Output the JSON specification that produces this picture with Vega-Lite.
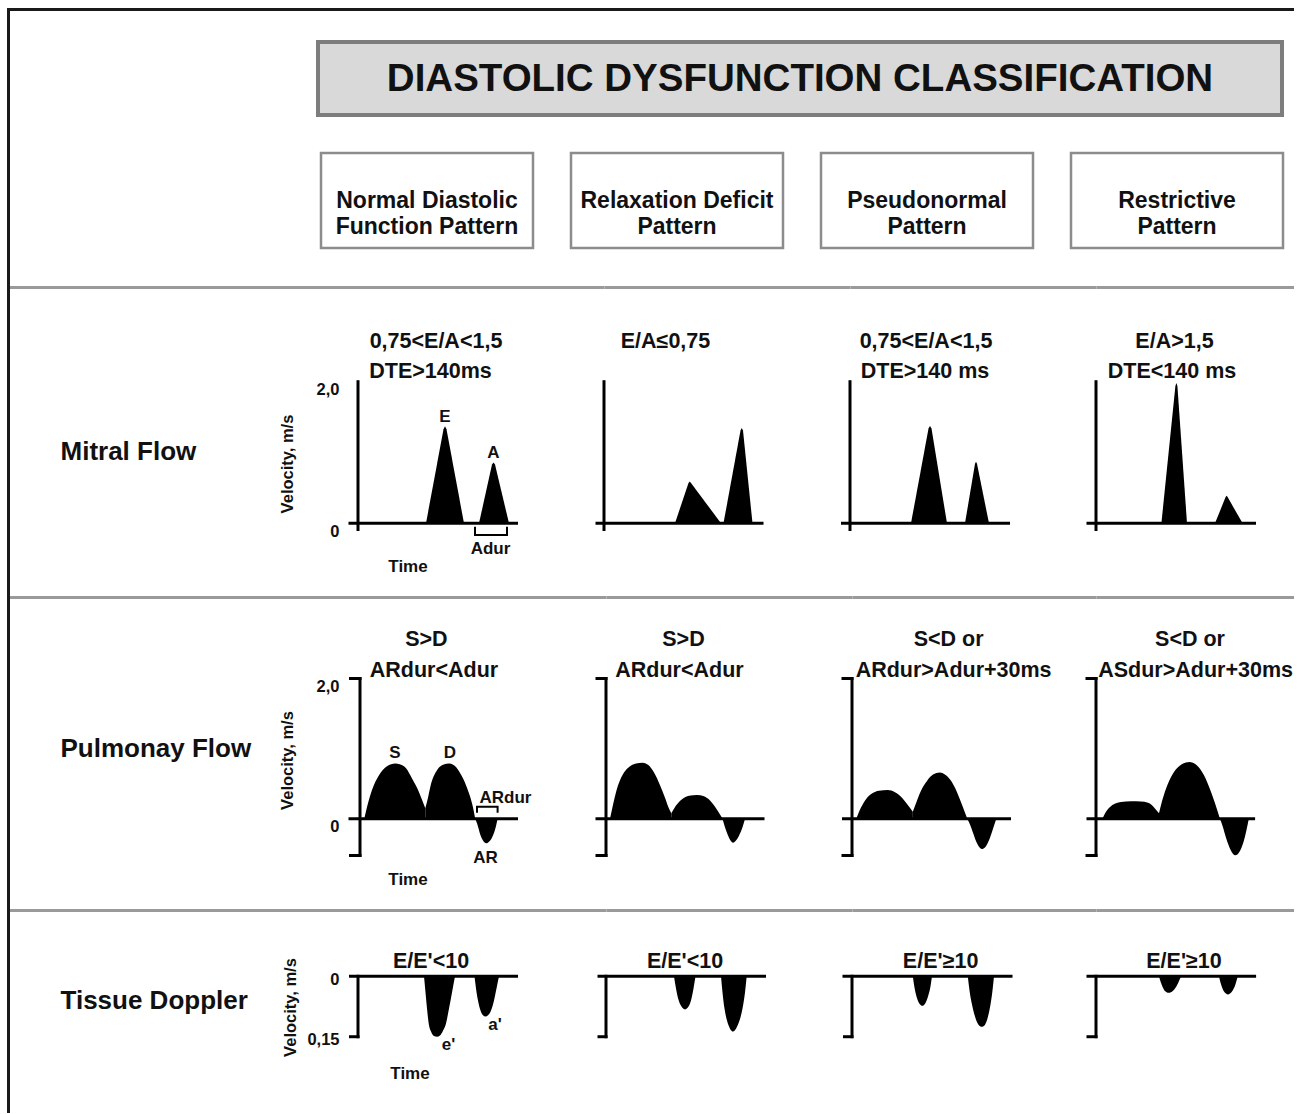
{
"$schema": "https://vega.github.io/schema/vega-lite/v6.json",
"background": "white",
"padding": {"left": 5, "top": 6, "right": 0, "bottom": 0},
"spacing": 0,
"bounds": "flush",
"config": {
  "view": {"stroke": null},
  "axis": {"grid": false, "ticks": false, "labels": false, "domain": false},
  "text": {"font": "Liberation Sans, Arial, Helvetica, sans-serif", "fontWeight": "bold", "color": "#111"}
},
"datasets": {
  "patterns": [
    {"pattern": "Normal Diastolic\nFunction Pattern"},
    {"pattern": "Relaxation Deficit\nPattern"},
    {"pattern": "Pseudonormal\nPattern"},
    {"pattern": "Restrictive\nPattern"}
  ],
  "waves": [
    {"row":"M","panel":1,"wave":"E","t":68,"v":0},{"row":"M","panel":1,"wave":"E","t":85.5,"v":1.33},{"row":"M","panel":1,"wave":"E","t":87,"v":1.37},{"row":"M","panel":1,"wave":"E","t":88.5,"v":1.33},{"row":"M","panel":1,"wave":"E","t":106,"v":0},
    {"row":"M","panel":1,"wave":"A","t":121,"v":0},{"row":"M","panel":1,"wave":"A","t":134,"v":0.83},{"row":"M","panel":1,"wave":"A","t":135.5,"v":0.86},{"row":"M","panel":1,"wave":"A","t":137,"v":0.83},{"row":"M","panel":1,"wave":"A","t":151,"v":0},
    {"row":"M","panel":2,"wave":"E","t":71,"v":0},{"row":"M","panel":2,"wave":"E","t":84.5,"v":0.57},{"row":"M","panel":2,"wave":"E","t":85.7,"v":0.59},{"row":"M","panel":2,"wave":"E","t":87,"v":0.57},{"row":"M","panel":2,"wave":"E","t":117,"v":0},
    {"row":"M","panel":2,"wave":"A","t":119.5,"v":0},{"row":"M","panel":2,"wave":"A","t":136.5,"v":1.31},{"row":"M","panel":2,"wave":"A","t":137.8,"v":1.345},{"row":"M","panel":2,"wave":"A","t":139,"v":1.31},{"row":"M","panel":2,"wave":"A","t":148.5,"v":0},
    {"row":"M","panel":3,"wave":"E","t":61,"v":0},{"row":"M","panel":3,"wave":"E","t":78.5,"v":1.34},{"row":"M","panel":3,"wave":"E","t":80,"v":1.375},{"row":"M","panel":3,"wave":"E","t":81.5,"v":1.34},{"row":"M","panel":3,"wave":"E","t":97,"v":0},
    {"row":"M","panel":3,"wave":"A","t":115,"v":0},{"row":"M","panel":3,"wave":"A","t":125,"v":0.84},{"row":"M","panel":3,"wave":"A","t":126,"v":0.87},{"row":"M","panel":3,"wave":"A","t":127,"v":0.84},{"row":"M","panel":3,"wave":"A","t":139,"v":0},
    {"row":"M","panel":4,"wave":"E","t":65.4,"v":0},{"row":"M","panel":4,"wave":"E","t":79.4,"v":1.94},{"row":"M","panel":4,"wave":"E","t":80.4,"v":1.98},{"row":"M","panel":4,"wave":"E","t":81.4,"v":1.94},{"row":"M","panel":4,"wave":"E","t":91,"v":0},
    {"row":"M","panel":4,"wave":"A","t":119,"v":0},{"row":"M","panel":4,"wave":"A","t":129.6,"v":0.37},{"row":"M","panel":4,"wave":"A","t":130.6,"v":0.39},{"row":"M","panel":4,"wave":"A","t":131.6,"v":0.37},{"row":"M","panel":4,"wave":"A","t":146.6,"v":0},

    {"row":"P","panel":1,"wave":"S","t":4.3,"v":0},{"row":"P","panel":1,"wave":"S","t":8,"v":0.22},{"row":"P","panel":1,"wave":"S","t":12,"v":0.41},{"row":"P","panel":1,"wave":"S","t":19,"v":0.62},{"row":"P","panel":1,"wave":"S","t":27,"v":0.75},{"row":"P","panel":1,"wave":"S","t":35.3,"v":0.79},{"row":"P","panel":1,"wave":"S","t":44,"v":0.75},{"row":"P","panel":1,"wave":"S","t":53,"v":0.55},{"row":"P","panel":1,"wave":"S","t":59,"v":0.38},{"row":"P","panel":1,"wave":"S","t":62,"v":0.27},{"row":"P","panel":1,"wave":"S","t":65.3,"v":0.15},
    {"row":"P","panel":1,"wave":"D","t":65.3,"v":0.15},{"row":"P","panel":1,"wave":"D","t":68,"v":0.3},{"row":"P","panel":1,"wave":"D","t":70.4,"v":0.46},{"row":"P","panel":1,"wave":"D","t":77.3,"v":0.7},{"row":"P","panel":1,"wave":"D","t":83,"v":0.77},{"row":"P","panel":1,"wave":"D","t":89.4,"v":0.79},{"row":"P","panel":1,"wave":"D","t":96,"v":0.74},{"row":"P","panel":1,"wave":"D","t":101.4,"v":0.62},{"row":"P","panel":1,"wave":"D","t":106,"v":0.48},{"row":"P","panel":1,"wave":"D","t":110,"v":0.32},{"row":"P","panel":1,"wave":"D","t":113,"v":0.16},{"row":"P","panel":1,"wave":"D","t":115.2,"v":0},
    {"row":"P","panel":1,"wave":"AR","t":115.2,"v":0},{"row":"P","panel":1,"wave":"AR","t":117,"v":-0.064},{"row":"P","panel":1,"wave":"AR","t":120.4,"v":-0.23},{"row":"P","panel":1,"wave":"AR","t":123,"v":-0.31},{"row":"P","panel":1,"wave":"AR","t":126.2,"v":-0.35},{"row":"P","panel":1,"wave":"AR","t":129.5,"v":-0.32},{"row":"P","panel":1,"wave":"AR","t":132.4,"v":-0.255},{"row":"P","panel":1,"wave":"AR","t":135.9,"v":-0.11},{"row":"P","panel":1,"wave":"AR","t":137.6,"v":0},

    {"row":"P","panel":2,"wave":"S","t":4,"v":0},{"row":"P","panel":2,"wave":"S","t":7,"v":0.2},{"row":"P","panel":2,"wave":"S","t":10,"v":0.38},{"row":"P","panel":2,"wave":"S","t":14,"v":0.55},{"row":"P","panel":2,"wave":"S","t":18,"v":0.66},{"row":"P","panel":2,"wave":"S","t":24,"v":0.75},{"row":"P","panel":2,"wave":"S","t":30,"v":0.79},{"row":"P","panel":2,"wave":"S","t":36.4,"v":0.8},{"row":"P","panel":2,"wave":"S","t":42,"v":0.77},{"row":"P","panel":2,"wave":"S","t":48,"v":0.66},{"row":"P","panel":2,"wave":"S","t":54,"v":0.48},{"row":"P","panel":2,"wave":"S","t":59,"v":0.3},{"row":"P","panel":2,"wave":"S","t":62,"v":0.18},{"row":"P","panel":2,"wave":"S","t":65.3,"v":0.08},
    {"row":"P","panel":2,"wave":"D","t":65.3,"v":0.08},{"row":"P","panel":2,"wave":"D","t":70,"v":0.19},{"row":"P","panel":2,"wave":"D","t":76,"v":0.28},{"row":"P","panel":2,"wave":"D","t":83,"v":0.33},{"row":"P","panel":2,"wave":"D","t":91,"v":0.34},{"row":"P","panel":2,"wave":"D","t":98,"v":0.32},{"row":"P","panel":2,"wave":"D","t":104,"v":0.26},{"row":"P","panel":2,"wave":"D","t":110,"v":0.15},{"row":"P","panel":2,"wave":"D","t":114,"v":0.06},{"row":"P","panel":2,"wave":"D","t":116.5,"v":0},
    {"row":"P","panel":2,"wave":"AR","t":116.5,"v":0},{"row":"P","panel":2,"wave":"AR","t":118.5,"v":-0.1},{"row":"P","panel":2,"wave":"AR","t":121.5,"v":-0.22},{"row":"P","panel":2,"wave":"AR","t":124.5,"v":-0.31},{"row":"P","panel":2,"wave":"AR","t":127,"v":-0.34},{"row":"P","panel":2,"wave":"AR","t":130,"v":-0.31},{"row":"P","panel":2,"wave":"AR","t":133,"v":-0.24},{"row":"P","panel":2,"wave":"AR","t":136.5,"v":-0.12},{"row":"P","panel":2,"wave":"AR","t":139,"v":0},

    {"row":"P","panel":3,"wave":"S","t":4.3,"v":0},{"row":"P","panel":3,"wave":"S","t":9,"v":0.16},{"row":"P","panel":3,"wave":"S","t":14,"v":0.28},{"row":"P","panel":3,"wave":"S","t":20,"v":0.36},{"row":"P","panel":3,"wave":"S","t":27,"v":0.4},{"row":"P","panel":3,"wave":"S","t":35.7,"v":0.41},{"row":"P","panel":3,"wave":"S","t":43,"v":0.38},{"row":"P","panel":3,"wave":"S","t":50,"v":0.3},{"row":"P","panel":3,"wave":"S","t":55,"v":0.21},{"row":"P","panel":3,"wave":"S","t":60.8,"v":0.1},
    {"row":"P","panel":3,"wave":"D","t":60.8,"v":0.1},{"row":"P","panel":3,"wave":"D","t":64,"v":0.22},{"row":"P","panel":3,"wave":"D","t":69,"v":0.4},{"row":"P","panel":3,"wave":"D","t":75,"v":0.54},{"row":"P","panel":3,"wave":"D","t":81,"v":0.63},{"row":"P","panel":3,"wave":"D","t":87.8,"v":0.66},{"row":"P","panel":3,"wave":"D","t":94,"v":0.62},{"row":"P","panel":3,"wave":"D","t":100,"v":0.52},{"row":"P","panel":3,"wave":"D","t":105,"v":0.38},{"row":"P","panel":3,"wave":"D","t":110,"v":0.2},{"row":"P","panel":3,"wave":"D","t":115.3,"v":0},
    {"row":"P","panel":3,"wave":"AR","t":115.3,"v":0},{"row":"P","panel":3,"wave":"AR","t":118,"v":-0.08},{"row":"P","panel":3,"wave":"AR","t":121,"v":-0.2},{"row":"P","panel":3,"wave":"AR","t":125,"v":-0.35},{"row":"P","panel":3,"wave":"AR","t":129.8,"v":-0.43},{"row":"P","panel":3,"wave":"AR","t":134,"v":-0.39},{"row":"P","panel":3,"wave":"AR","t":138,"v":-0.27},{"row":"P","panel":3,"wave":"AR","t":141.5,"v":-0.12},{"row":"P","panel":3,"wave":"AR","t":144.3,"v":0},

    {"row":"P","panel":4,"wave":"S","t":6.5,"v":0},{"row":"P","panel":4,"wave":"S","t":10,"v":0.1},{"row":"P","panel":4,"wave":"S","t":15,"v":0.18},{"row":"P","panel":4,"wave":"S","t":20,"v":0.22},{"row":"P","panel":4,"wave":"S","t":25,"v":0.24},{"row":"P","panel":4,"wave":"S","t":35,"v":0.25},{"row":"P","panel":4,"wave":"S","t":45,"v":0.245},{"row":"P","panel":4,"wave":"S","t":52,"v":0.23},{"row":"P","panel":4,"wave":"S","t":57,"v":0.18},{"row":"P","panel":4,"wave":"S","t":60,"v":0.13},{"row":"P","panel":4,"wave":"S","t":63,"v":0.08},
    {"row":"P","panel":4,"wave":"D","t":63,"v":0.08},{"row":"P","panel":4,"wave":"D","t":66,"v":0.25},{"row":"P","panel":4,"wave":"D","t":70,"v":0.43},{"row":"P","panel":4,"wave":"D","t":76,"v":0.62},{"row":"P","panel":4,"wave":"D","t":84,"v":0.76},{"row":"P","panel":4,"wave":"D","t":93.4,"v":0.81},{"row":"P","panel":4,"wave":"D","t":101,"v":0.76},{"row":"P","panel":4,"wave":"D","t":108,"v":0.62},{"row":"P","panel":4,"wave":"D","t":114,"v":0.42},{"row":"P","panel":4,"wave":"D","t":119,"v":0.22},{"row":"P","panel":4,"wave":"D","t":123.9,"v":0},
    {"row":"P","panel":4,"wave":"AR","t":123.9,"v":0},{"row":"P","panel":4,"wave":"AR","t":126.5,"v":-0.1},{"row":"P","panel":4,"wave":"AR","t":130,"v":-0.27},{"row":"P","panel":4,"wave":"AR","t":134.5,"v":-0.44},{"row":"P","panel":4,"wave":"AR","t":139.3,"v":-0.52},{"row":"P","panel":4,"wave":"AR","t":143.5,"v":-0.47},{"row":"P","panel":4,"wave":"AR","t":147.5,"v":-0.33},{"row":"P","panel":4,"wave":"AR","t":150.5,"v":-0.16},{"row":"P","panel":4,"wave":"AR","t":152.8,"v":0},

    {"row":"T","panel":1,"wave":"e","t":66,"v":0},{"row":"T","panel":1,"wave":"e","t":67.5,"v":-0.04},{"row":"T","panel":1,"wave":"e","t":69,"v":-0.08},{"row":"T","panel":1,"wave":"e","t":70.7,"v":-0.117},{"row":"T","panel":1,"wave":"e","t":73,"v":-0.137},{"row":"T","panel":1,"wave":"e","t":76,"v":-0.148},{"row":"T","panel":1,"wave":"e","t":79,"v":-0.15},{"row":"T","panel":1,"wave":"e","t":82,"v":-0.147},{"row":"T","panel":1,"wave":"e","t":85,"v":-0.135},{"row":"T","panel":1,"wave":"e","t":88,"v":-0.117},{"row":"T","panel":1,"wave":"e","t":91,"v":-0.08},{"row":"T","panel":1,"wave":"e","t":94,"v":-0.04},{"row":"T","panel":1,"wave":"e","t":97,"v":0},
    {"row":"T","panel":1,"wave":"a","t":116.5,"v":0},{"row":"T","panel":1,"wave":"a","t":118,"v":-0.03},{"row":"T","panel":1,"wave":"a","t":120,"v":-0.06},{"row":"T","panel":1,"wave":"a","t":122.5,"v":-0.085},{"row":"T","panel":1,"wave":"a","t":125,"v":-0.097},{"row":"T","panel":1,"wave":"a","t":127.5,"v":-0.1},{"row":"T","panel":1,"wave":"a","t":130,"v":-0.097},{"row":"T","panel":1,"wave":"a","t":133,"v":-0.085},{"row":"T","panel":1,"wave":"a","t":136,"v":-0.06},{"row":"T","panel":1,"wave":"a","t":138.5,"v":-0.03},{"row":"T","panel":1,"wave":"a","t":141,"v":0},
    {"row":"T","panel":2,"wave":"e","t":68,"v":0},{"row":"T","panel":2,"wave":"e","t":70,"v":-0.03},{"row":"T","panel":2,"wave":"e","t":72.5,"v":-0.058},{"row":"T","panel":2,"wave":"e","t":75.5,"v":-0.075},{"row":"T","panel":2,"wave":"e","t":79,"v":-0.082},{"row":"T","panel":2,"wave":"e","t":82.5,"v":-0.075},{"row":"T","panel":2,"wave":"e","t":85.5,"v":-0.055},{"row":"T","panel":2,"wave":"e","t":87.5,"v":-0.03},{"row":"T","panel":2,"wave":"e","t":89.5,"v":0},
    {"row":"T","panel":2,"wave":"a","t":115,"v":0},{"row":"T","panel":2,"wave":"a","t":116.5,"v":-0.04},{"row":"T","panel":2,"wave":"a","t":118.5,"v":-0.08},{"row":"T","panel":2,"wave":"a","t":121,"v":-0.11},{"row":"T","panel":2,"wave":"a","t":124,"v":-0.13},{"row":"T","panel":2,"wave":"a","t":127,"v":-0.137},{"row":"T","panel":2,"wave":"a","t":130,"v":-0.13},{"row":"T","panel":2,"wave":"a","t":133.5,"v":-0.11},{"row":"T","panel":2,"wave":"a","t":136.5,"v":-0.08},{"row":"T","panel":2,"wave":"a","t":139,"v":-0.04},{"row":"T","panel":2,"wave":"a","t":140.7,"v":0},
    {"row":"T","panel":3,"wave":"e","t":60.8,"v":0},{"row":"T","panel":3,"wave":"e","t":62.5,"v":-0.028},{"row":"T","panel":3,"wave":"e","t":64.5,"v":-0.05},{"row":"T","panel":3,"wave":"e","t":67,"v":-0.066},{"row":"T","panel":3,"wave":"e","t":70.4,"v":-0.073},{"row":"T","panel":3,"wave":"e","t":73.5,"v":-0.066},{"row":"T","panel":3,"wave":"e","t":76,"v":-0.05},{"row":"T","panel":3,"wave":"e","t":78.3,"v":-0.028},{"row":"T","panel":3,"wave":"e","t":80,"v":0},
    {"row":"T","panel":3,"wave":"a","t":115.8,"v":0},{"row":"T","panel":3,"wave":"a","t":117.5,"v":-0.035},{"row":"T","panel":3,"wave":"a","t":120,"v":-0.07},{"row":"T","panel":3,"wave":"a","t":123,"v":-0.1},{"row":"T","panel":3,"wave":"a","t":126.5,"v":-0.12},{"row":"T","panel":3,"wave":"a","t":129.8,"v":-0.125},{"row":"T","panel":3,"wave":"a","t":133,"v":-0.12},{"row":"T","panel":3,"wave":"a","t":136,"v":-0.1},{"row":"T","panel":3,"wave":"a","t":138.5,"v":-0.07},{"row":"T","panel":3,"wave":"a","t":140.5,"v":-0.035},{"row":"T","panel":3,"wave":"a","t":142,"v":0},
    {"row":"T","panel":4,"wave":"e","t":63,"v":0},{"row":"T","panel":4,"wave":"e","t":65.5,"v":-0.02},{"row":"T","panel":4,"wave":"e","t":68.5,"v":-0.035},{"row":"T","panel":4,"wave":"e","t":72.7,"v":-0.041},{"row":"T","panel":4,"wave":"e","t":77,"v":-0.036},{"row":"T","panel":4,"wave":"e","t":81,"v":-0.022},{"row":"T","panel":4,"wave":"e","t":85,"v":0},
    {"row":"T","panel":4,"wave":"a","t":123,"v":0},{"row":"T","panel":4,"wave":"a","t":125,"v":-0.02},{"row":"T","panel":4,"wave":"a","t":128,"v":-0.038},{"row":"T","panel":4,"wave":"a","t":132,"v":-0.045},{"row":"T","panel":4,"wave":"a","t":136,"v":-0.038},{"row":"T","panel":4,"wave":"a","t":139.5,"v":-0.02},{"row":"T","panel":4,"wave":"a","t":141.7,"v":0}
  ],
  "notes": [
    {"row":"M","panel":1,"kind":"crit","text":"0,75<E/A<1,5","t":78,"v":2.472},
    {"row":"M","panel":1,"kind":"crit","text":"DTE>140ms","t":72.5,"v":2.059},
    {"row":"M","panel":2,"kind":"crit","text":"E/A≤0,75","t":61.5,"v":2.472},
    {"row":"M","panel":3,"kind":"crit","text":"0,75<E/A<1,5","t":76,"v":2.472},
    {"row":"M","panel":3,"kind":"crit","text":"DTE>140 ms","t":75,"v":2.059},
    {"row":"M","panel":4,"kind":"crit","text":"E/A>1,5","t":78.5,"v":2.472},
    {"row":"M","panel":4,"kind":"crit","text":"DTE<140 ms","t":76,"v":2.059},
    {"row":"P","panel":1,"kind":"crit","text":"S>D","t":66.4,"v":2.463},
    {"row":"P","panel":1,"kind":"crit","text":"ARdur<Adur","t":74,"v":2.026},
    {"row":"P","panel":2,"kind":"crit","text":"S>D","t":77.5,"v":2.463},
    {"row":"P","panel":2,"kind":"crit","text":"ARdur<Adur","t":73.5,"v":2.026},
    {"row":"P","panel":3,"kind":"crit","text":"S<D or","t":96.6,"v":2.463},
    {"row":"P","panel":3,"kind":"crit","text":"ARdur>Adur+30ms","t":101.6,"v":2.026},
    {"row":"P","panel":4,"kind":"crit","text":"S<D or","t":94,"v":2.463},
    {"row":"P","panel":4,"kind":"crit","text":"ASdur>Adur+30ms","t":99.6,"v":2.026},
    {"row":"T","panel":1,"kind":"crit","text":"E/E'<10","t":73,"v":0.0199},
    {"row":"T","panel":2,"kind":"crit","text":"E/E'<10","t":79,"v":0.0199},
    {"row":"T","panel":3,"kind":"crit","text":"E/E'≥10","t":88.6,"v":0.0199},
    {"row":"T","panel":4,"kind":"crit","text":"E/E'≥10","t":88,"v":0.0199},
    {"row":"M","panel":1,"kind":"lab","text":"E","t":87,"v":1.501},
    {"row":"M","panel":1,"kind":"lab","text":"A","t":135.3,"v":0.986},
    {"row":"M","panel":1,"kind":"lab","text":"Adur","t":132.5,"v":-0.356},
    {"row":"M","panel":1,"kind":"lab","text":"Time","t":50,"v":-0.613},
    {"row":"P","panel":1,"kind":"lab","text":"S","t":35,"v":0.938},
    {"row":"P","panel":1,"kind":"lab","text":"D","t":90,"v":0.938},
    {"row":"P","panel":1,"kind":"lab","text":"AR","t":125.5,"v":-0.559},
    {"row":"P","panel":1,"kind":"lab","text":"ARdur","t":145.5,"v":0.297},
    {"row":"P","panel":1,"kind":"lab","text":"Time","t":48,"v":-0.872},
    {"row":"T","panel":1,"kind":"lab","text":"e'","t":90.5,"v":-0.1706},
    {"row":"T","panel":1,"kind":"lab","text":"a'","t":137,"v":-0.1209},
    {"row":"T","panel":1,"kind":"lab","text":"Time","t":52,"v":-0.2414}
  ],
  "brackets": [
    {"row":"M","panel":1,"i":1,"t":117,"v":-0.048},{"row":"M","panel":1,"i":2,"t":117,"v":-0.165},{"row":"M","panel":1,"i":3,"t":149,"v":-0.165},{"row":"M","panel":1,"i":4,"t":149,"v":-0.048},
    {"row":"P","panel":1,"i":1,"t":117,"v":0.087},{"row":"P","panel":1,"i":2,"t":117,"v":0.172},{"row":"P","panel":1,"i":3,"t":137.6,"v":0.172},{"row":"P","panel":1,"i":4,"t":137.6,"v":0.087}
  ]
},
"hconcat": [
  {"width": 3, "height": 1108, "data": {"values": [{}]}, "mark": {"type": "text"},
   "encoding": {"text": {"value": ""},
     "y": {"datum": 0.5, "type": "quantitative", "scale": {"domain": [0, 1], "range": [1105, 3]}, "axis": {"orient": "left", "domain": true, "domainColor": "#1a1a1a", "domainWidth": 3, "domainCap": "square", "offset": -3, "title": null}}}},
  {"vconcat": [
    {"hconcat": [
      {"width": 310, "height": 278, "data": {"values": [{}]}, "mark": {"type": "text"},
       "encoding": {"text": {"value": ""},
         "x": {"datum": 0.5, "type": "quantitative", "scale": {"domain": [0, 1], "range": [3, 310]}, "axis": {"orient": "top", "domain": true, "domainColor": "#1a1a1a", "domainWidth": 3, "domainCap": "square", "offset": -3, "title": null}}}},
      {"vconcat": [
        {"width": 976, "height": 36, "data": {"values": [{}]}, "mark": {"type": "text"},
         "encoding": {"text": {"value": ""},
           "x": {"datum": 0.5, "type": "quantitative", "scale": {"domain": [0, 1]}, "axis": {"orient": "top", "domain": true, "domainColor": "#1a1a1a", "domainWidth": 3, "offset": -3, "title": null}}}},
        {"width": 964, "height": 73, "view": {"fill": "#d9d9d9", "stroke": "#7d7d7d", "strokeWidth": 4},
         "data": {"values": [{"title": "DIASTOLIC DYSFUNCTION CLASSIFICATION"}]},
         "mark": {"type": "text", "fontSize": 38.5, "fontWeight": "bold", "color": "#111"},
         "encoding": {"text": {"field": "title"}}},
        {"width": 1, "height": 38, "data": {"values": [{}]}, "mark": {"type": "text"}, "encoding": {"text": {"value": ""}}},
        {"hconcat": [
          {"width": 3, "height": 95, "data": {"values": [{}]}, "mark": {"type": "text"}, "encoding": {"text": {"value": ""}}},
          {"width": 962, "height": 95, "data": {"name": "patterns"},
           "layer": [
             {"mark": {"type": "rect", "fill": "#ffffff", "stroke": "#8c8c8c", "strokeWidth": 2.5},
              "encoding": {"x": {"field": "pattern", "type": "nominal", "sort": null, "scale": {"paddingInner": 0.152, "paddingOuter": 0}, "axis": null}}},
             {"mark": {"type": "text", "fontSize": 23, "lineBreak": "\n", "lineHeight": 26, "align": "center", "baseline": "middle"},
              "encoding": {"x": {"field": "pattern", "type": "nominal", "sort": null}, "text": {"field": "pattern"}}}
           ]}
        ], "spacing": 0, "bounds": "flush"}
      ], "spacing": 0, "bounds": "flush"}
    ], "spacing": 0, "bounds": "flush"},

    {"hconcat": [
      {"width": 350, "height": 310, "data": {"values": [{}]}, "mark": {"type": "text"},
       "encoding": {"text": {"value": ""},
         "x": {"datum": 0.5, "type": "quantitative", "scale": {"domain": [0, 1], "range": [3, 350]}, "axis": {"orient": "top", "domain": true, "domainColor": "#9a9a9a", "domainWidth": 3, "domainCap": "square", "offset": -3, "title": null}},
         "y": {"datum": 0.5, "type": "quantitative", "scale": {"domain": [0, 1]}, "axis": {"orient": "left", "title": "Mitral Flow", "titleFont": "Liberation Sans, Arial, sans-serif", "titleFontSize": 26, "titleFontWeight": "bold", "titleColor": "#111", "titleAngle": 0, "titleAlign": "left", "titleBaseline": "alphabetic", "titleX": 52, "titleY": 175.8}}}},
      {"width": 246, "height": 310, "layer": [
        {"data": {"name": "waves"}, "transform": [{"filter": "datum.row == 'M' && datum.panel == 1"}],
         "mark": {"type": "area", "color": "#000", "interpolate": "linear"},
         "encoding": {
           "x": {"field": "t", "type": "quantitative", "scale": {"domain": [0, 246], "nice": false, "zero": false}, "axis": {"orient": "top", "domain": true, "domainColor": "#9a9a9a", "domainWidth": 3, "offset": -3, "title": null}},
           "y": {"field": "v", "type": "quantitative", "scale": {"domain": [-0.9986, 3.38], "nice": false, "zero": false},
                 "axis": {"values": [0, 2], "labels": true, "labelExpr": "datum.value == 2 ? '2,0' : '0'", "labelFont": "Liberation Sans, Arial, sans-serif", "labelFontSize": 16.5, "labelFontWeight": "bold", "labelColor": "#111", "labelPadding": 19, "labelAlign": "right", "labelBaseline": "top", "tickSize": 0, "labelOverlap": false, "labelFlush": false,
                          "title": "Velocity, m/s", "titleFont": "Liberation Sans, Arial, sans-serif", "titleFontSize": 16.5, "titleFontWeight": "bold", "titleColor": "#111", "titleX": -71, "titleY": 179.5, "titleAngle": -90, "titleAlign": "center", "titleBaseline": "middle"}},
           "y2": {"datum": 0},
           "detail": {"field": "wave"}}},
        {"data": {"values": [{}]}, "mark": {"type": "rule", "color": "#000", "strokeWidth": 3, "strokeCap": "square"},
         "encoding": {"x": {"datum": 0, "type": "quantitative"}, "y": {"datum": 2, "type": "quantitative"}, "y2": {"datum": -0.088}}},
        {"data": {"values": [{}]}, "mark": {"type": "rule", "color": "#000", "strokeWidth": 3, "strokeCap": "square"},
         "encoding": {"x": {"datum": -8, "type": "quantitative"}, "x2": {"datum": 158.5}, "y": {"datum": 0, "type": "quantitative"}}},
        {"data": {"name": "brackets"}, "transform": [{"filter": "datum.row == 'M' && datum.panel == 1"}],
         "mark": {"type": "line", "color": "#000", "strokeWidth": 2},
         "encoding": {"x": {"field": "t", "type": "quantitative"}, "y": {"field": "v", "type": "quantitative"}, "order": {"field": "i"}}},
        {"data": {"name": "notes"}, "transform": [{"filter": "datum.row == 'M' && datum.panel == 1 && datum.kind == 'crit'"}],
         "mark": {"type": "text", "fontSize": 21.5, "align": "center", "baseline": "alphabetic"},
         "encoding": {"x": {"field": "t", "type": "quantitative"}, "y": {"field": "v", "type": "quantitative"}, "text": {"field": "text"}}},
        {"data": {"name": "notes"}, "transform": [{"filter": "datum.row == 'M' && datum.panel == 1 && datum.kind == 'lab'"}],
         "mark": {"type": "text", "fontSize": 17, "align": "center", "baseline": "middle"},
         "encoding": {"x": {"field": "t", "type": "quantitative"}, "y": {"field": "v", "type": "quantitative"}, "text": {"field": "text"}}}
      ]},
      {"width": 246, "height": 310, "layer": [
        {"data": {"name": "waves"}, "transform": [{"filter": "datum.row == 'M' && datum.panel == 2"}],
         "mark": {"type": "area", "color": "#000", "interpolate": "linear"},
         "encoding": {
           "x": {"field": "t", "type": "quantitative", "scale": {"domain": [0, 246], "nice": false, "zero": false}, "axis": {"orient": "top", "domain": true, "domainColor": "#9a9a9a", "domainWidth": 3, "offset": -3, "title": null}},
           "y": {"field": "v", "type": "quantitative", "scale": {"domain": [-0.9986, 3.38], "nice": false, "zero": false}, "axis": null},
           "y2": {"datum": 0},
           "detail": {"field": "wave"}}},
        {"data": {"values": [{}]}, "mark": {"type": "rule", "color": "#000", "strokeWidth": 3, "strokeCap": "square"},
         "encoding": {"x": {"datum": 0, "type": "quantitative"}, "y": {"datum": 2, "type": "quantitative"}, "y2": {"datum": -0.088}}},
        {"data": {"values": [{}]}, "mark": {"type": "rule", "color": "#000", "strokeWidth": 3, "strokeCap": "square"},
         "encoding": {"x": {"datum": -7, "type": "quantitative"}, "x2": {"datum": 158}, "y": {"datum": 0, "type": "quantitative"}}},
        {"data": {"name": "notes"}, "transform": [{"filter": "datum.row == 'M' && datum.panel == 2 && datum.kind == 'crit'"}],
         "mark": {"type": "text", "fontSize": 21.5, "align": "center", "baseline": "alphabetic"},
         "encoding": {"x": {"field": "t", "type": "quantitative"}, "y": {"field": "v", "type": "quantitative"}, "text": {"field": "text"}}}
      ]},
      {"width": 246, "height": 310, "layer": [
        {"data": {"name": "waves"}, "transform": [{"filter": "datum.row == 'M' && datum.panel == 3"}],
         "mark": {"type": "area", "color": "#000", "interpolate": "linear"},
         "encoding": {
           "x": {"field": "t", "type": "quantitative", "scale": {"domain": [0, 246], "nice": false, "zero": false}, "axis": {"orient": "top", "domain": true, "domainColor": "#9a9a9a", "domainWidth": 3, "offset": -3, "title": null}},
           "y": {"field": "v", "type": "quantitative", "scale": {"domain": [-0.9986, 3.38], "nice": false, "zero": false}, "axis": null},
           "y2": {"datum": 0},
           "detail": {"field": "wave"}}},
        {"data": {"values": [{}]}, "mark": {"type": "rule", "color": "#000", "strokeWidth": 3, "strokeCap": "square"},
         "encoding": {"x": {"datum": 0, "type": "quantitative"}, "y": {"datum": 2, "type": "quantitative"}, "y2": {"datum": -0.088}}},
        {"data": {"values": [{}]}, "mark": {"type": "rule", "color": "#000", "strokeWidth": 3, "strokeCap": "square"},
         "encoding": {"x": {"datum": -7.5, "type": "quantitative"}, "x2": {"datum": 158.5}, "y": {"datum": 0, "type": "quantitative"}}},
        {"data": {"name": "notes"}, "transform": [{"filter": "datum.row == 'M' && datum.panel == 3 && datum.kind == 'crit'"}],
         "mark": {"type": "text", "fontSize": 21.5, "align": "center", "baseline": "alphabetic"},
         "encoding": {"x": {"field": "t", "type": "quantitative"}, "y": {"field": "v", "type": "quantitative"}, "text": {"field": "text"}}}
      ]},
      {"width": 198, "height": 310, "layer": [
        {"data": {"name": "waves"}, "transform": [{"filter": "datum.row == 'M' && datum.panel == 4"}],
         "mark": {"type": "area", "color": "#000", "interpolate": "linear"},
         "encoding": {
           "x": {"field": "t", "type": "quantitative", "scale": {"domain": [0, 198], "nice": false, "zero": false}, "axis": {"orient": "top", "domain": true, "domainColor": "#9a9a9a", "domainWidth": 3, "offset": -3, "title": null}},
           "y": {"field": "v", "type": "quantitative", "scale": {"domain": [-0.9986, 3.38], "nice": false, "zero": false}, "axis": null},
           "y2": {"datum": 0},
           "detail": {"field": "wave"}}},
        {"data": {"values": [{}]}, "mark": {"type": "rule", "color": "#000", "strokeWidth": 3, "strokeCap": "square"},
         "encoding": {"x": {"datum": 0, "type": "quantitative"}, "y": {"datum": 2, "type": "quantitative"}, "y2": {"datum": -0.088}}},
        {"data": {"values": [{}]}, "mark": {"type": "rule", "color": "#000", "strokeWidth": 3, "strokeCap": "square"},
         "encoding": {"x": {"datum": -8, "type": "quantitative"}, "x2": {"datum": 158.5}, "y": {"datum": 0, "type": "quantitative"}}},
        {"data": {"name": "notes"}, "transform": [{"filter": "datum.row == 'M' && datum.panel == 4 && datum.kind == 'crit'"}],
         "mark": {"type": "text", "fontSize": 21.5, "align": "center", "baseline": "alphabetic"},
         "encoding": {"x": {"field": "t", "type": "quantitative"}, "y": {"field": "v", "type": "quantitative"}, "text": {"field": "text"}}}
      ]}
    ], "spacing": 0, "bounds": "flush"},

    {"hconcat": [
      {"width": 352, "height": 313, "data": {"values": [{}]}, "mark": {"type": "text"},
       "encoding": {"text": {"value": ""},
         "x": {"datum": 0.5, "type": "quantitative", "scale": {"domain": [0, 1], "range": [3, 352]}, "axis": {"orient": "top", "domain": true, "domainColor": "#9a9a9a", "domainWidth": 3, "domainCap": "square", "offset": -3, "title": null}},
         "y": {"datum": 0.5, "type": "quantitative", "scale": {"domain": [0, 1]}, "axis": {"orient": "left", "title": "Pulmonay Flow", "titleFont": "Liberation Sans, Arial, sans-serif", "titleFontSize": 26, "titleFontWeight": "bold", "titleColor": "#111", "titleAngle": 0, "titleAlign": "left", "titleBaseline": "alphabetic", "titleX": 52, "titleY": 162}}}},
      {"width": 246, "height": 313, "layer": [
        {"data": {"name": "waves"}, "transform": [{"filter": "datum.row == 'P' && datum.panel == 1"}],
         "mark": {"type": "area", "color": "#000", "interpolate": "monotone"},
         "encoding": {
           "x": {"field": "t", "type": "quantitative", "scale": {"domain": [0, 246], "nice": false, "zero": false}, "axis": {"orient": "top", "domain": true, "domainColor": "#9a9a9a", "domainWidth": 3, "offset": -3, "title": null}},
           "y": {"field": "v", "type": "quantitative", "scale": {"domain": [-1.2573, 3.2046], "nice": false, "zero": false},
                 "axis": {"values": [0, 2], "labels": true, "labelExpr": "datum.value == 2 ? '2,0' : '0'", "labelFont": "Liberation Sans, Arial, sans-serif", "labelFontSize": 16.5, "labelFontWeight": "bold", "labelColor": "#111", "labelPadding": 21, "labelAlign": "right", "labelBaseline": "top", "tickSize": 0, "labelOverlap": false, "labelFlush": false,
                          "title": "Velocity, m/s", "titleFont": "Liberation Sans, Arial, sans-serif", "titleFontSize": 16.5, "titleFontWeight": "bold", "titleColor": "#111", "titleX": -72.7, "titleY": 166, "titleAngle": -90, "titleAlign": "center", "titleBaseline": "middle"}},
           "y2": {"datum": 0},
           "detail": {"field": "wave"}}},
        {"data": {"values": [{}]}, "mark": {"type": "rule", "color": "#000", "strokeWidth": 3, "strokeCap": "square"},
         "encoding": {"x": {"datum": 0, "type": "quantitative"}, "y": {"datum": 2, "type": "quantitative"}, "y2": {"datum": -0.523}}},
        {"data": {"values": [{}]}, "mark": {"type": "rule", "color": "#000", "strokeWidth": 3, "strokeCap": "square"},
         "encoding": {"x": {"datum": -10, "type": "quantitative"}, "x2": {"datum": 156.5}, "y": {"datum": 0, "type": "quantitative"}}},
        {"data": {"values": [{"v": 2}, {"v": -0.523}]}, "mark": {"type": "rule", "color": "#000", "strokeWidth": 3, "strokeCap": "square"},
         "encoding": {"x": {"datum": -9.5, "type": "quantitative"}, "x2": {"datum": 0}, "y": {"field": "v", "type": "quantitative"}}},
        {"data": {"name": "brackets"}, "transform": [{"filter": "datum.row == 'P' && datum.panel == 1"}],
         "mark": {"type": "line", "color": "#000", "strokeWidth": 2},
         "encoding": {"x": {"field": "t", "type": "quantitative"}, "y": {"field": "v", "type": "quantitative"}, "order": {"field": "i"}}},
        {"data": {"name": "notes"}, "transform": [{"filter": "datum.row == 'P' && datum.panel == 1 && datum.kind == 'crit'"}],
         "mark": {"type": "text", "fontSize": 21.5, "align": "center", "baseline": "alphabetic"},
         "encoding": {"x": {"field": "t", "type": "quantitative"}, "y": {"field": "v", "type": "quantitative"}, "text": {"field": "text"}}},
        {"data": {"name": "notes"}, "transform": [{"filter": "datum.row == 'P' && datum.panel == 1 && datum.kind == 'lab'"}],
         "mark": {"type": "text", "fontSize": 17, "align": "center", "baseline": "middle"},
         "encoding": {"x": {"field": "t", "type": "quantitative"}, "y": {"field": "v", "type": "quantitative"}, "text": {"field": "text"}}}
      ]},
      {"width": 246, "height": 313, "layer": [
        {"data": {"name": "waves"}, "transform": [{"filter": "datum.row == 'P' && datum.panel == 2"}],
         "mark": {"type": "area", "color": "#000", "interpolate": "monotone"},
         "encoding": {
           "x": {"field": "t", "type": "quantitative", "scale": {"domain": [0, 246], "nice": false, "zero": false}, "axis": {"orient": "top", "domain": true, "domainColor": "#9a9a9a", "domainWidth": 3, "offset": -3, "title": null}},
           "y": {"field": "v", "type": "quantitative", "scale": {"domain": [-1.2573, 3.2046], "nice": false, "zero": false}, "axis": null},
           "y2": {"datum": 0},
           "detail": {"field": "wave"}}},
        {"data": {"values": [{}]}, "mark": {"type": "rule", "color": "#000", "strokeWidth": 3, "strokeCap": "square"},
         "encoding": {"x": {"datum": 0, "type": "quantitative"}, "y": {"datum": 2, "type": "quantitative"}, "y2": {"datum": -0.523}}},
        {"data": {"values": [{}]}, "mark": {"type": "rule", "color": "#000", "strokeWidth": 3, "strokeCap": "square"},
         "encoding": {"x": {"datum": -9, "type": "quantitative"}, "x2": {"datum": 157}, "y": {"datum": 0, "type": "quantitative"}}},
        {"data": {"values": [{"v": 2}, {"v": -0.523}]}, "mark": {"type": "rule", "color": "#000", "strokeWidth": 3, "strokeCap": "square"},
         "encoding": {"x": {"datum": -9, "type": "quantitative"}, "x2": {"datum": 0}, "y": {"field": "v", "type": "quantitative"}}},
        {"data": {"name": "notes"}, "transform": [{"filter": "datum.row == 'P' && datum.panel == 2 && datum.kind == 'crit'"}],
         "mark": {"type": "text", "fontSize": 21.5, "align": "center", "baseline": "alphabetic"},
         "encoding": {"x": {"field": "t", "type": "quantitative"}, "y": {"field": "v", "type": "quantitative"}, "text": {"field": "text"}}}
      ]},
      {"width": 244, "height": 313, "layer": [
        {"data": {"name": "waves"}, "transform": [{"filter": "datum.row == 'P' && datum.panel == 3"}],
         "mark": {"type": "area", "color": "#000", "interpolate": "monotone"},
         "encoding": {
           "x": {"field": "t", "type": "quantitative", "scale": {"domain": [0, 244], "nice": false, "zero": false}, "axis": {"orient": "top", "domain": true, "domainColor": "#9a9a9a", "domainWidth": 3, "offset": -3, "title": null}},
           "y": {"field": "v", "type": "quantitative", "scale": {"domain": [-1.2573, 3.2046], "nice": false, "zero": false}, "axis": null},
           "y2": {"datum": 0},
           "detail": {"field": "wave"}}},
        {"data": {"values": [{}]}, "mark": {"type": "rule", "color": "#000", "strokeWidth": 3, "strokeCap": "square"},
         "encoding": {"x": {"datum": 0, "type": "quantitative"}, "y": {"datum": 2, "type": "quantitative"}, "y2": {"datum": -0.523}}},
        {"data": {"values": [{}]}, "mark": {"type": "rule", "color": "#000", "strokeWidth": 3, "strokeCap": "square"},
         "encoding": {"x": {"datum": -8.5, "type": "quantitative"}, "x2": {"datum": 157.5}, "y": {"datum": 0, "type": "quantitative"}}},
        {"data": {"values": [{"v": 2}, {"v": -0.523}]}, "mark": {"type": "rule", "color": "#000", "strokeWidth": 3, "strokeCap": "square"},
         "encoding": {"x": {"datum": -9, "type": "quantitative"}, "x2": {"datum": 0}, "y": {"field": "v", "type": "quantitative"}}},
        {"data": {"name": "notes"}, "transform": [{"filter": "datum.row == 'P' && datum.panel == 3 && datum.kind == 'crit'"}],
         "mark": {"type": "text", "fontSize": 21.5, "align": "center", "baseline": "alphabetic"},
         "encoding": {"x": {"field": "t", "type": "quantitative"}, "y": {"field": "v", "type": "quantitative"}, "text": {"field": "text"}}}
      ]},
      {"width": 198, "height": 313, "layer": [
        {"data": {"name": "waves"}, "transform": [{"filter": "datum.row == 'P' && datum.panel == 4"}],
         "mark": {"type": "area", "color": "#000", "interpolate": "monotone"},
         "encoding": {
           "x": {"field": "t", "type": "quantitative", "scale": {"domain": [0, 198], "nice": false, "zero": false}, "axis": {"orient": "top", "domain": true, "domainColor": "#9a9a9a", "domainWidth": 3, "offset": -3, "title": null}},
           "y": {"field": "v", "type": "quantitative", "scale": {"domain": [-1.2573, 3.2046], "nice": false, "zero": false}, "axis": null},
           "y2": {"datum": 0},
           "detail": {"field": "wave"}}},
        {"data": {"values": [{}]}, "mark": {"type": "rule", "color": "#000", "strokeWidth": 3, "strokeCap": "square"},
         "encoding": {"x": {"datum": 0, "type": "quantitative"}, "y": {"datum": 2, "type": "quantitative"}, "y2": {"datum": -0.523}}},
        {"data": {"values": [{}]}, "mark": {"type": "rule", "color": "#000", "strokeWidth": 3, "strokeCap": "square"},
         "encoding": {"x": {"datum": -8, "type": "quantitative"}, "x2": {"datum": 157.6}, "y": {"datum": 0, "type": "quantitative"}}},
        {"data": {"values": [{"v": 2}, {"v": -0.523}]}, "mark": {"type": "rule", "color": "#000", "strokeWidth": 3, "strokeCap": "square"},
         "encoding": {"x": {"datum": -9, "type": "quantitative"}, "x2": {"datum": 0}, "y": {"field": "v", "type": "quantitative"}}},
        {"data": {"name": "notes"}, "transform": [{"filter": "datum.row == 'P' && datum.panel == 4 && datum.kind == 'crit'"}],
         "mark": {"type": "text", "fontSize": 21.5, "align": "center", "baseline": "alphabetic"},
         "encoding": {"x": {"field": "t", "type": "quantitative"}, "y": {"field": "v", "type": "quantitative"}, "text": {"field": "text"}}}
      ]}
    ], "spacing": 0, "bounds": "flush"},

    {"hconcat": [
      {"width": 350, "height": 207, "data": {"values": [{}]}, "mark": {"type": "text"},
       "encoding": {"text": {"value": ""},
         "x": {"datum": 0.5, "type": "quantitative", "scale": {"domain": [0, 1], "range": [3, 350]}, "axis": {"orient": "top", "domain": true, "domainColor": "#9a9a9a", "domainWidth": 3, "domainCap": "square", "offset": -3, "title": null}},
         "y": {"datum": 0.5, "type": "quantitative", "scale": {"domain": [0, 1]}, "axis": {"orient": "left", "title": "Tissue Doppler", "titleFont": "Liberation Sans, Arial, sans-serif", "titleFontSize": 26, "titleFontWeight": "bold", "titleColor": "#111", "titleAngle": 0, "titleAlign": "left", "titleBaseline": "alphabetic", "titleX": 52, "titleY": 101.3}}}},
      {"width": 248, "height": 207, "layer": [
        {"data": {"name": "waves"}, "transform": [{"filter": "datum.row == 'T' && datum.panel == 1"}],
         "mark": {"type": "area", "color": "#000", "interpolate": "monotone"},
         "encoding": {
           "x": {"field": "t", "type": "quantitative", "scale": {"domain": [0, 248], "nice": false, "zero": false}, "axis": {"orient": "top", "domain": true, "domainColor": "#9a9a9a", "domainWidth": 3, "offset": -3, "title": null}},
           "y": {"field": "v", "type": "quantitative", "scale": {"domain": [-0.3419, 0.1721], "nice": false, "zero": false},
                 "axis": {"values": [0, -0.15], "labels": true, "labelExpr": "datum.value == 0 ? '0' : '0,15'", "labelFont": "Liberation Sans, Arial, sans-serif", "labelFontSize": 16.5, "labelFontWeight": "bold", "labelColor": "#111", "labelPadding": 19, "labelAlign": "right", "labelBaseline": "middle", "labelOffset": 3, "tickSize": 0, "labelOverlap": false, "labelFlush": false,
                          "title": "Velocity, m/s", "titleFont": "Liberation Sans, Arial, sans-serif", "titleFontSize": 16.5, "titleFontWeight": "bold", "titleColor": "#111", "titleX": -67.5, "titleY": 100, "titleAngle": -90, "titleAlign": "center", "titleBaseline": "middle"}},
           "y2": {"datum": 0},
           "detail": {"field": "wave"}}},
        {"data": {"values": [{}]}, "mark": {"type": "rule", "color": "#000", "strokeWidth": 3, "strokeCap": "square"},
         "encoding": {"x": {"datum": 0, "type": "quantitative"}, "y": {"datum": 0, "type": "quantitative"}, "y2": {"datum": -0.15}}},
        {"data": {"values": [{}]}, "mark": {"type": "rule", "color": "#000", "strokeWidth": 3, "strokeCap": "square"},
         "encoding": {"x": {"datum": -7.5, "type": "quantitative"}, "x2": {"datum": 158.5}, "y": {"datum": 0, "type": "quantitative"}}},
        {"data": {"values": [{"v": -0.15}]}, "mark": {"type": "rule", "color": "#000", "strokeWidth": 3, "strokeCap": "square"},
         "encoding": {"x": {"datum": -7.5, "type": "quantitative"}, "x2": {"datum": 0}, "y": {"field": "v", "type": "quantitative"}}},
        {"data": {"name": "notes"}, "transform": [{"filter": "datum.row == 'T' && datum.panel == 1 && datum.kind == 'crit'"}],
         "mark": {"type": "text", "fontSize": 21.5, "align": "center", "baseline": "alphabetic"},
         "encoding": {"x": {"field": "t", "type": "quantitative"}, "y": {"field": "v", "type": "quantitative"}, "text": {"field": "text"}}},
        {"data": {"name": "notes"}, "transform": [{"filter": "datum.row == 'T' && datum.panel == 1 && datum.kind == 'lab'"}],
         "mark": {"type": "text", "fontSize": 17, "align": "center", "baseline": "middle"},
         "encoding": {"x": {"field": "t", "type": "quantitative"}, "y": {"field": "v", "type": "quantitative"}, "text": {"field": "text"}}}
      ]},
      {"width": 246, "height": 207, "layer": [
        {"data": {"name": "waves"}, "transform": [{"filter": "datum.row == 'T' && datum.panel == 2"}],
         "mark": {"type": "area", "color": "#000", "interpolate": "monotone"},
         "encoding": {
           "x": {"field": "t", "type": "quantitative", "scale": {"domain": [0, 246], "nice": false, "zero": false}, "axis": {"orient": "top", "domain": true, "domainColor": "#9a9a9a", "domainWidth": 3, "offset": -3, "title": null}},
           "y": {"field": "v", "type": "quantitative", "scale": {"domain": [-0.3419, 0.1721], "nice": false, "zero": false}, "axis": null},
           "y2": {"datum": 0},
           "detail": {"field": "wave"}}},
        {"data": {"values": [{}]}, "mark": {"type": "rule", "color": "#000", "strokeWidth": 3, "strokeCap": "square"},
         "encoding": {"x": {"datum": 0, "type": "quantitative"}, "y": {"datum": 0, "type": "quantitative"}, "y2": {"datum": -0.15}}},
        {"data": {"values": [{}]}, "mark": {"type": "rule", "color": "#000", "strokeWidth": 3, "strokeCap": "square"},
         "encoding": {"x": {"datum": -7, "type": "quantitative"}, "x2": {"datum": 158.5}, "y": {"datum": 0, "type": "quantitative"}}},
        {"data": {"values": [{"v": -0.15}]}, "mark": {"type": "rule", "color": "#000", "strokeWidth": 3, "strokeCap": "square"},
         "encoding": {"x": {"datum": -7, "type": "quantitative"}, "x2": {"datum": 0}, "y": {"field": "v", "type": "quantitative"}}},
        {"data": {"name": "notes"}, "transform": [{"filter": "datum.row == 'T' && datum.panel == 2 && datum.kind == 'crit'"}],
         "mark": {"type": "text", "fontSize": 21.5, "align": "center", "baseline": "alphabetic"},
         "encoding": {"x": {"field": "t", "type": "quantitative"}, "y": {"field": "v", "type": "quantitative"}, "text": {"field": "text"}}}
      ]},
      {"width": 244, "height": 207, "layer": [
        {"data": {"name": "waves"}, "transform": [{"filter": "datum.row == 'T' && datum.panel == 3"}],
         "mark": {"type": "area", "color": "#000", "interpolate": "monotone"},
         "encoding": {
           "x": {"field": "t", "type": "quantitative", "scale": {"domain": [0, 244], "nice": false, "zero": false}, "axis": {"orient": "top", "domain": true, "domainColor": "#9a9a9a", "domainWidth": 3, "offset": -3, "title": null}},
           "y": {"field": "v", "type": "quantitative", "scale": {"domain": [-0.3419, 0.1721], "nice": false, "zero": false}, "axis": null},
           "y2": {"datum": 0},
           "detail": {"field": "wave"}}},
        {"data": {"values": [{}]}, "mark": {"type": "rule", "color": "#000", "strokeWidth": 3, "strokeCap": "square"},
         "encoding": {"x": {"datum": 0, "type": "quantitative"}, "y": {"datum": 0, "type": "quantitative"}, "y2": {"datum": -0.15}}},
        {"data": {"values": [{}]}, "mark": {"type": "rule", "color": "#000", "strokeWidth": 3, "strokeCap": "square"},
         "encoding": {"x": {"datum": -8, "type": "quantitative"}, "x2": {"datum": 159}, "y": {"datum": 0, "type": "quantitative"}}},
        {"data": {"values": [{"v": -0.15}]}, "mark": {"type": "rule", "color": "#000", "strokeWidth": 3, "strokeCap": "square"},
         "encoding": {"x": {"datum": -7.5, "type": "quantitative"}, "x2": {"datum": 0}, "y": {"field": "v", "type": "quantitative"}}},
        {"data": {"name": "notes"}, "transform": [{"filter": "datum.row == 'T' && datum.panel == 3 && datum.kind == 'crit'"}],
         "mark": {"type": "text", "fontSize": 21.5, "align": "center", "baseline": "alphabetic"},
         "encoding": {"x": {"field": "t", "type": "quantitative"}, "y": {"field": "v", "type": "quantitative"}, "text": {"field": "text"}}}
      ]},
      {"width": 198, "height": 207, "layer": [
        {"data": {"name": "waves"}, "transform": [{"filter": "datum.row == 'T' && datum.panel == 4"}],
         "mark": {"type": "area", "color": "#000", "interpolate": "monotone"},
         "encoding": {
           "x": {"field": "t", "type": "quantitative", "scale": {"domain": [0, 198], "nice": false, "zero": false}, "axis": {"orient": "top", "domain": true, "domainColor": "#9a9a9a", "domainWidth": 3, "offset": -3, "title": null}},
           "y": {"field": "v", "type": "quantitative", "scale": {"domain": [-0.3419, 0.1721], "nice": false, "zero": false}, "axis": null},
           "y2": {"datum": 0},
           "detail": {"field": "wave"}}},
        {"data": {"values": [{}]}, "mark": {"type": "rule", "color": "#000", "strokeWidth": 3, "strokeCap": "square"},
         "encoding": {"x": {"datum": 0, "type": "quantitative"}, "y": {"datum": 0, "type": "quantitative"}, "y2": {"datum": -0.15}}},
        {"data": {"values": [{}]}, "mark": {"type": "rule", "color": "#000", "strokeWidth": 3, "strokeCap": "square"},
         "encoding": {"x": {"datum": -8, "type": "quantitative"}, "x2": {"datum": 158.6}, "y": {"datum": 0, "type": "quantitative"}}},
        {"data": {"values": [{"v": -0.15}]}, "mark": {"type": "rule", "color": "#000", "strokeWidth": 3, "strokeCap": "square"},
         "encoding": {"x": {"datum": -8, "type": "quantitative"}, "x2": {"datum": 0}, "y": {"field": "v", "type": "quantitative"}}},
        {"data": {"name": "notes"}, "transform": [{"filter": "datum.row == 'T' && datum.panel == 4 && datum.kind == 'crit'"}],
         "mark": {"type": "text", "fontSize": 21.5, "align": "center", "baseline": "alphabetic"},
         "encoding": {"x": {"field": "t", "type": "quantitative"}, "y": {"field": "v", "type": "quantitative"}, "text": {"field": "text"}}}
      ]}
    ], "spacing": 0, "bounds": "flush"}
  ], "spacing": 0, "bounds": "full"}
]
}
